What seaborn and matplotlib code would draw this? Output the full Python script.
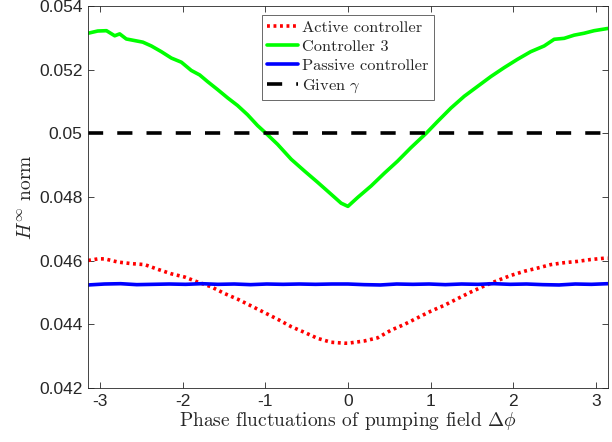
import numpy as np
import pandas as pd
import matplotlib
matplotlib.use("Agg")
import matplotlib.pyplot as plt
import seaborn as sns

# ---- data ----
ctrl3_x = [-3.142, -3.025, -2.92, -2.82, -2.76, -2.68, -2.58, -2.48, -2.377, -2.256,
           -2.135, -2.014, -1.894, -1.793, -1.697, -1.576, -1.455, -1.335, -1.214, -1.093,
           -0.988, -0.851, -0.686, -0.525, -0.368, -0.203, -0.082, 0.0,
           0.118, 0.28, 0.44, 0.60, 0.76, 0.944, 1.085, 1.246, 1.407, 1.568,
           1.729, 1.89, 2.05, 2.21, 2.373, 2.494, 2.615, 2.736, 2.856, 2.977, 3.142]
ctrl3_y = [0.05315, 0.05322, 0.05323, 0.05307, 0.05313, 0.05297, 0.05292, 0.05287, 0.05275, 0.05257,
           0.05237, 0.05224, 0.05198, 0.05184, 0.05163, 0.05138, 0.05112, 0.05088, 0.05059, 0.05025,
           0.05000, 0.04966, 0.04919, 0.04882, 0.04847, 0.04809, 0.04781, 0.04771,
           0.04799, 0.04835, 0.04875, 0.04913, 0.04955, 0.05000, 0.05038, 0.05080, 0.05117, 0.05148,
           0.05179, 0.05207, 0.05233, 0.05257, 0.05275, 0.05296, 0.05299, 0.05309, 0.05315, 0.05323, 0.05330]

active_x = [-3.142, -3.022, -2.941, -2.78, -2.618, -2.458, -2.297, -2.135, -1.975, -1.814,
            -1.652, -1.491, -1.331, -1.169, -1.008, -0.848, -0.686, -0.525, -0.365, -0.203,
            -0.042, 0.0, 0.199, 0.36, 0.522, 0.682, 0.843, 1.005, 1.165, 1.326,
            1.488, 1.649, 1.809, 1.971, 2.132, 2.292, 2.454, 2.615, 2.775, 2.937, 3.098, 3.142]
active_y = [0.04601, 0.04606, 0.04606, 0.04596, 0.04591, 0.04588, 0.04573, 0.04559, 0.04549, 0.04533,
            0.04518, 0.04497, 0.04479, 0.04458, 0.04437, 0.04416, 0.04393, 0.04375, 0.04356, 0.04344,
            0.04341, 0.04341, 0.04348, 0.04358, 0.04382, 0.04400, 0.04421, 0.04442, 0.04460, 0.04481,
            0.04502, 0.04521, 0.04538, 0.04554, 0.04567, 0.04577, 0.04588, 0.04594, 0.04598, 0.04604, 0.04608, 0.04608]

passive_x = [-3.142, -2.945, -2.749, -2.553, -2.356, -2.160, -1.963, -1.767, -1.571, -1.374,
             -1.178, -0.982, -0.785, -0.589, -0.393, -0.196, 0.0, 0.196, 0.393, 0.589,
             0.785, 0.982, 1.178, 1.374, 1.571, 1.767, 1.963, 2.160, 2.356, 2.553,
             2.749, 2.945, 3.142]
passive_y = [0.04524, 0.04527, 0.04528, 0.04525, 0.04526, 0.04527, 0.04526, 0.04528, 0.04526, 0.04527,
             0.04525, 0.04527, 0.04526, 0.04527, 0.04526, 0.04527, 0.04527, 0.04525, 0.04524, 0.04527,
             0.04526, 0.04527, 0.04525, 0.04527, 0.04526, 0.04528, 0.04526, 0.04527, 0.04525, 0.04524,
             0.04527, 0.04526, 0.04528]

gamma_x = [-np.pi, np.pi]
gamma_y = [0.05, 0.05]

xticks = [-3, -2, -1, 0, 1, 2, 3]
yticks = [0.042, 0.044, 0.046, 0.048, 0.05, 0.052, 0.054]
ytick_labels = ["0.042", "0.044", "0.046", "0.048", "0.05", "0.052", "0.054"]

sns.set_style("ticks")
plt.rcParams["mathtext.fontset"] = "cm"
plt.rcParams["font.family"] = ["Liberation Sans", "DejaVu Sans"]

fig = plt.figure(figsize=(6.12, 4.42), dpi=100)
ax = fig.add_axes([0.144, 0.122, 0.849, 0.864])

lw = 2.6
sns.lineplot(x=active_x, y=active_y, ax=ax, color=(1, 0, 0), lw=lw,
             linestyle=(0, (0.8, 1.0)), label="Active controller")
sns.lineplot(x=ctrl3_x, y=ctrl3_y, ax=ax, color=(0, 1, 0), lw=lw, label="Controller 3")
sns.lineplot(x=passive_x, y=passive_y, ax=ax, color=(0, 0, 1), lw=lw, label="Passive controller")
sns.lineplot(x=gamma_x, y=gamma_y, ax=ax, color="black", lw=lw,
             linestyle=(0, (4.2, 3.9)), label=r"Given $\gamma$")

ax.set_xlim(-np.pi, np.pi)
ax.set_ylim(0.042, 0.054)
ax.set_xticks(xticks)
ax.set_xticklabels([str(t) for t in xticks])
ax.set_yticks(yticks)
ax.set_yticklabels(ytick_labels)

axcol = "#262626"
for sp in ax.spines.values():
    sp.set_visible(True)
    sp.set_color(axcol)
    sp.set_linewidth(0.6)
ax.tick_params(direction="in", length=4, width=0.6, color=axcol, labelcolor=axcol,
               labelsize=12.5, top=True, right=True, pad=4)

ax.set_xlabel(r"Phase fluctuations of pumping field $\Delta\phi$", fontfamily="cmr10",
              fontsize=14, color=axcol, labelpad=1)
ax.set_ylabel(r"$H^{\infty}$ norm", fontfamily="cmr10", fontsize=14, color=axcol, labelpad=3)

leg = ax.legend(loc="upper center", bbox_to_anchor=(0.5, 1 - 9 / 382), borderaxespad=0,
                prop={"family": "cmr10", "size": 11.8}, frameon=True, fancybox=False,
                handlelength=1.9, handletextpad=0.25, labelspacing=0.28, borderpad=0.3)
leg.get_frame().set_edgecolor(axcol)
leg.get_frame().set_linewidth(0.6)

fig.savefig("out.png", dpi=100)
